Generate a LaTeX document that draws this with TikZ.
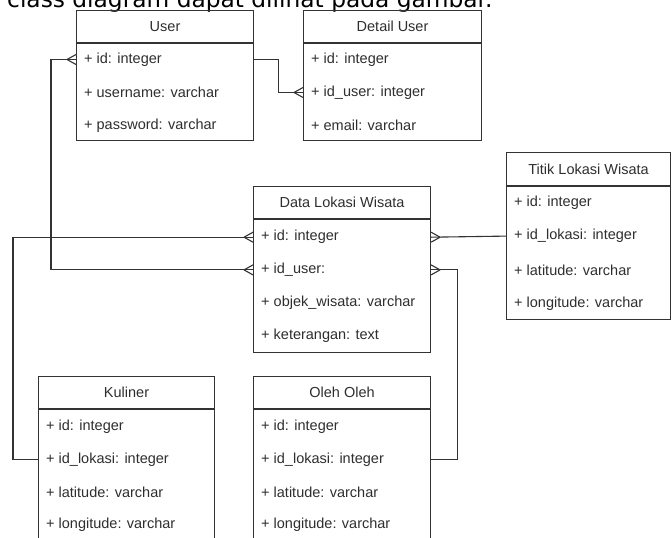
\documentclass[tikz,border=0pt]{standalone}
\usepackage{fontspec}
\setmainfont{Liberation Sans}
\newfontfamily\capfont{DejaVu Sans}
\definecolor{linecol}{HTML}{333333}
\definecolor{txtcol}{HTML}{2E2E2E}
\tikzset{
  tbl/.style={draw=linecol, line width=1.1pt, anchor=north west, inner sep=0pt},
  hdr/.style={font=\fontsize{14.5}{16}\selectfont, text=txtcol},
  row/.style={anchor=west, inner xsep=8pt, font=\fontsize{14.5}{16}\selectfont, text=txtcol},
  rel/.style={draw=linecol, line width=1.1pt},
}
% crow's foot on a left or right side
\newcommand{\footleft}[1]{\draw[rel] ([xshift=-9]#1) -- ([yshift=5]#1) ([xshift=-9]#1) -- ([yshift=-5]#1);}
\newcommand{\footright}[1]{\draw[rel] ([xshift=9]#1) -- ([yshift=5]#1) ([xshift=9]#1) -- ([yshift=-5]#1);}
\begin{document}
\begin{tikzpicture}[x=1pt,y=-1pt]
  \useasboundingbox (0,0) rectangle (672,538);
  \node[anchor=base west, inner sep=0pt, font=\capfont\fontsize{23.3}{26}\selectfont] (caption) at (7,7) {class diagram dapat dilihat pada gambar.};

  % User
  \node[tbl, minimum width=177, minimum height=130] (user) at (76,10) {};
  \draw[rel] ([yshift=-33]user.north west) -- ([yshift=-33]user.north east);
  \node[hdr] (user-t) at ([yshift=-16.5]user.north) {User};
  \foreach \i/\t in {1/{+ id: integer},2/{+ username: varchar},3/{+ password: varchar}}
    \node[row] (user-\i) at (76,26.5+33*\i) {\t};

  % Detail User
  \node[tbl, minimum width=178, minimum height=130] (detail) at (303,10) {};
  \draw[rel] ([yshift=-33]detail.north west) -- ([yshift=-33]detail.north east);
  \node[hdr] (detail-t) at ([yshift=-16.5]detail.north) {Detail User};
  \foreach \i/\t in {1/{+ id: integer},2/{+ id\_user: integer},3/{+ email: varchar}}
    \node[row] (detail-\i) at (303,26.5+33*\i) {\t};

  % Data Lokasi Wisata
  \node[tbl, minimum width=177, minimum height=166] (data) at (253,186) {};
  \draw[rel] ([yshift=-33]data.north west) -- ([yshift=-33]data.north east);
  \node[hdr] (data-t) at ([yshift=-16.5]data.north) {Data Lokasi Wisata};
  \foreach \i/\t in {1/{+ id: integer},2/{+ id\_user:},3/{+ objek\_wisata: varchar},4/{+ keterangan: text}}
    \node[row] (data-\i) at (253,204.5+32.7*\i) {\t};

  % Titik Lokasi Wisata
  \node[tbl, minimum width=164, minimum height=167] (titik) at (506,152) {};
  \draw[rel] ([yshift=-34]titik.north west) -- ([yshift=-34]titik.north east);
  \node[hdr] (titik-t) at ([yshift=-17]titik.north) {Titik Lokasi Wisata};
  \foreach \i/\t in {1/{+ id: integer},2/{+ id\_lokasi: integer},3/{+ latitude: varchar},4/{+ longitude: varchar}}
    \node[row] (titik-\i) at (506,168.5+33.8*\i) {\t};

  % Kuliner
  \node[tbl, minimum width=176, minimum height=175] (kuliner) at (38,376) {};
  \draw[rel] ([yshift=-33]kuliner.north west) -- ([yshift=-33]kuliner.north east);
  \node[hdr] (kuliner-t) at ([yshift=-16.5]kuliner.north) {Kuliner};
  \foreach \i/\t in {1/{+ id: integer},2/{+ id\_lokasi: integer},3/{+ latitude: varchar},4/{+ longitude: varchar}}
    \node[row] (kuliner-\i) at (38,394.3+32.7*\i) {\t};

  % Oleh Oleh
  \node[tbl, minimum width=177, minimum height=175] (oleh) at (253,376) {};
  \draw[rel] ([yshift=-33]oleh.north west) -- ([yshift=-33]oleh.north east);
  \node[hdr] (oleh-t) at ([yshift=-16.5]oleh.north) {Oleh Oleh};
  \foreach \i/\t in {1/{+ id: integer},2/{+ id\_lokasi: integer},3/{+ latitude: varchar},4/{+ longitude: varchar}}
    \node[row] (oleh-\i) at (253,394.3+32.7*\i) {\t};

  % relations
  \draw[rel] (user-1.west -| user.east) -- ++(24,0) |- (detail-2.west);
  \footleft{detail-2.west}
  \draw[rel] (user-1.west) -- ++(-25,0) |- (data-2.west);
  \footleft{user-1.west}
  \footleft{data-2.west}
  \draw[rel] (data-1.west) -- ++(-240,0) |- (kuliner-2.west);
  \footleft{data-1.west}
  \draw[rel] (data-1.west -| data.east) -- (titik-2.west);
  \footright{data-1.west -| data.east}
  \draw[rel] (data-2.west -| data.east) -- ++(26,0) |- (oleh-2.west -| oleh.east);
  \footright{data-2.west -| data.east}
\end{tikzpicture}
\end{document}
